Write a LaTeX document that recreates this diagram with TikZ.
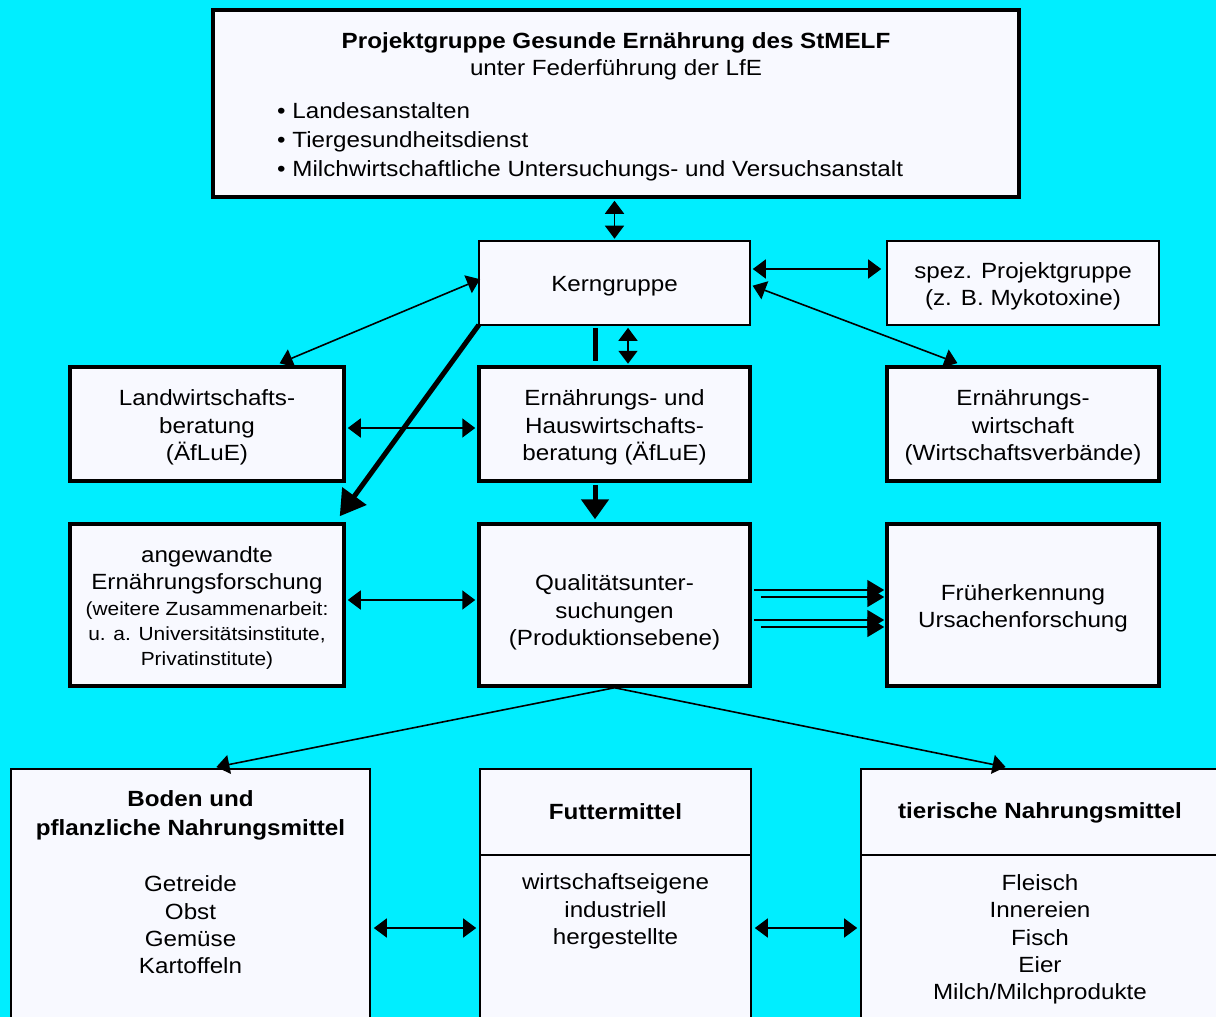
\documentclass[tikz,border=0pt]{standalone}
\usepackage{fontspec}
\setmainfont[FakeStretch=1.1]{Liberation Sans}
\usetikzlibrary{arrows.meta,calc}
\definecolor{bgcyan}{RGB}{0,238,255}
\definecolor{boxfill}{RGB}{248,249,255}
\newcommand\fsn{\fontsize{22}{27.3}\selectfont}
\newcommand\fss{\fontsize{19}{24.5}\selectfont}
\begin{document}
\begin{tikzpicture}[x=1pt,y=-1pt,
  box/.style={draw, fill=boxfill, inner sep=0pt},
  thickbox/.style={box, line width=3.5pt},
  thinbox/.style={box, line width=1.6pt},
  txt/.style={inner sep=0pt, align=center, font=\fsn},
  ctxt/.style={txt, yshift=-3.5pt},
  dbl/.style={{Triangle[length=13pt,width=19pt]}-{Triangle[length=13pt,width=19pt]}, line width=1.6pt},
  sgl/.style={-{Triangle[length=13pt,width=19pt]}, line width=1.6pt},
  sglb/.style={-{Triangle[length=17pt,width=20pt]}, line width=1.6pt},
  thk/.style={-{Triangle[length=20pt,width=27pt]}, line width=5pt},
  thkd/.style={-{Triangle[length=25pt,width=29pt]}, line width=5pt}]
\useasboundingbox (0,0) rectangle (1216,1017);
\fill[bgcyan] (0,0) rectangle (1216,1017);
\clip (0,0) rectangle (1216,1017);

% top box
\node[thickbox, minimum width=806pt, minimum height=187pt] (top) at (616,103.5) {};
\node[txt] (toptitle) at (616,56) {\textbf{Projektgruppe Gesunde Ernährung des StMELF}\\unter Federführung der LfE};
\node[txt, align=left, anchor=west, font=\fontsize{22}{29}\selectfont] (toplist) at (277,142)
  {• Landesanstalten\\• Tiergesundheitsdienst\\• Milchwirtschaftliche Untersuchungs- und Versuchsanstalt};

% row 1
\node[thinbox, minimum width=271pt, minimum height=84pt] (kern) at (614.5,283) {};
\node[ctxt] (kerntxt) at (kern.center) {Kerngruppe};
\node[thinbox, minimum width=272pt, minimum height=84pt] (spez) at (1023,283) {};
\node[ctxt] (speztxt) at (spez.center) {spez. Projektgruppe\\(z. B. Mykotoxine)};

% row 2
\node[thickbox, minimum width=274pt, minimum height=114pt] (landw) at (207,424) {};
\node[ctxt] (landwtxt) at (landw.center) {Landwirtschafts-\\beratung\\(ÄfLuE)};
\node[thickbox, minimum width=271pt, minimum height=114pt] (hausw) at (614.5,424) {};
\node[ctxt] (hauswtxt) at (hausw.center) {Ernährungs- und\\Hauswirtschafts-\\beratung (ÄfLuE)};
\node[thickbox, minimum width=272pt, minimum height=114pt] (ernw) at (1023,424) {};
\node[ctxt] (ernwtxt) at (ernw.center) {Ernährungs-\\wirtschaft\\(Wirtschaftsverbände)};

% row 3
\node[thickbox, minimum width=274pt, minimum height=162pt] (angew) at (207,605) {};
\node[txt] (angewtxt) at (207,608) {angewandte\\Ernährungsforschung\\[-2pt]{\fss (weitere Zusammenarbeit:}\\[-2pt]{\fss u. a. Universitätsinstitute,}\\[-2pt]{\fss Privatinstitute)}};
\node[thickbox, minimum width=271pt, minimum height=162pt] (qual) at (614.5,605) {};
\node[txt] (qualtxt) at (614.5,612.5) {Qualitätsunter-\\suchungen\\(Produktionsebene)};
\node[thickbox, minimum width=272pt, minimum height=162pt] (frueh) at (1023,605) {};
\node[ctxt] (fruehtxt) at (frueh.center) {Früherkennung\\Ursachenforschung};

% bottom row
\node[thinbox, minimum width=359pt, minimum height=261pt] (boden) at (190.5,899.5) {};
\node[txt, font=\fontsize{22}{29}\selectfont] (bodentitle) at (190.5,815.5) {\textbf{Boden und}\\\textbf{pflanzliche Nahrungsmittel}};
\node[txt] (bodenitems) at (190.5,925) {Getreide\\Obst\\Gemüse\\Kartoffeln};

\node[thinbox, minimum width=271pt, minimum height=261pt] (futter) at (615.5,899.5) {};
\coordinate (fdiv) at (0,855);
\draw[line width=1.6pt] (futter.west |- fdiv) -- (futter.east |- fdiv);
\node[txt] (futtertitle) at (615.5,812) {\textbf{Futtermittel}};
\node[txt] (futteritems) at (615.5,911.5) {wirtschaftseigene\\industriell\\hergestellte};

\node[thinbox, minimum width=369pt, minimum height=261pt] (tier) at (1045.5,899.5) {};
\draw[line width=1.6pt] (tier.west |- fdiv) -- (tier.east |- fdiv);
\node[txt] (tiertitle) at (1040,813) {\textbf{tierische Nahrungsmittel}};
\node[txt] (tieritems) at (1040,939.5) {Fleisch\\Innereien\\Fisch\\Eier\\Milch/Milchprodukte};

% connectors
\draw[dbl, shorten <=2pt, shorten >=1.5pt] (kern.north |- top.south) -- (kern.north);
\draw[dbl, shorten <=2pt, shorten >=5pt] ([yshift=14pt]kern.east) -- ([yshift=14pt]spez.west);
\draw[dbl, shorten <=2pt, shorten >=6pt] ([yshift=-2pt]kern.east) -- ([xshift=-60pt]ernw.north);
\draw[dbl, shorten <=-2pt, shorten >=5pt] ([yshift=3pt]kern.west) -- ([xshift=68pt]landw.north);
\draw[thkd, shorten <=-1pt] (kern.south west) -- ([xshift=-6pt,yshift=6pt]angew.north east);
\draw[line width=5pt, shorten <=2pt, shorten >=4pt] ([xshift=-19.5pt]kern.south) -- ([xshift=-19.5pt]kern.south |- hausw.north);
\draw[dbl, shorten <=2pt, shorten >=1.5pt] ([xshift=13.5pt]kern.south) -- ([xshift=13.5pt]kern.south |- hausw.north);
\draw[dbl, shorten <=2pt, shorten >=2pt] ([yshift=-4pt]landw.east) -- ([yshift=-4pt]hausw.west);
\draw[thk, shorten <=2pt, shorten >=3pt] ([xshift=-19.5pt]hausw.south) -- ([xshift=-19.5pt]qual.north);
\draw[dbl, shorten <=2pt, shorten >=2pt] ([yshift=5pt]angew.east) -- ([yshift=5pt]qual.west);
\draw[sglb, shorten <=2pt, shorten >=1pt] ([yshift=15pt]qual.east) -- ([yshift=15pt]frueh.west);
\draw[sglb, shorten <=9pt, shorten >=1pt] ([yshift=8pt]qual.east) -- ([yshift=8pt]frueh.west);
\draw[sglb, shorten <=2pt, shorten >=1pt] ([yshift=-15pt]qual.east) -- ([yshift=-15pt]frueh.west);
\draw[sglb, shorten <=9pt, shorten >=1pt] ([yshift=-22pt]qual.east) -- ([yshift=-22pt]frueh.west);
\draw[sgl, shorten >=6pt] (qual.south) -- ([xshift=20pt]boden.north);
\draw[sgl, shorten >=6pt] (qual.south) -- ([xshift=-34pt]tier.north);
\draw[dbl, shorten <=3pt, shorten >=3pt] ([yshift=-28.5pt]boden.east) -- ([yshift=-28.5pt]boden.east -| futter.west);
\draw[dbl, shorten <=3pt, shorten >=3pt] ([yshift=-28.5pt]futter.east) -- ([yshift=-28.5pt]futter.east -| tier.west);
\end{tikzpicture}
\end{document}
